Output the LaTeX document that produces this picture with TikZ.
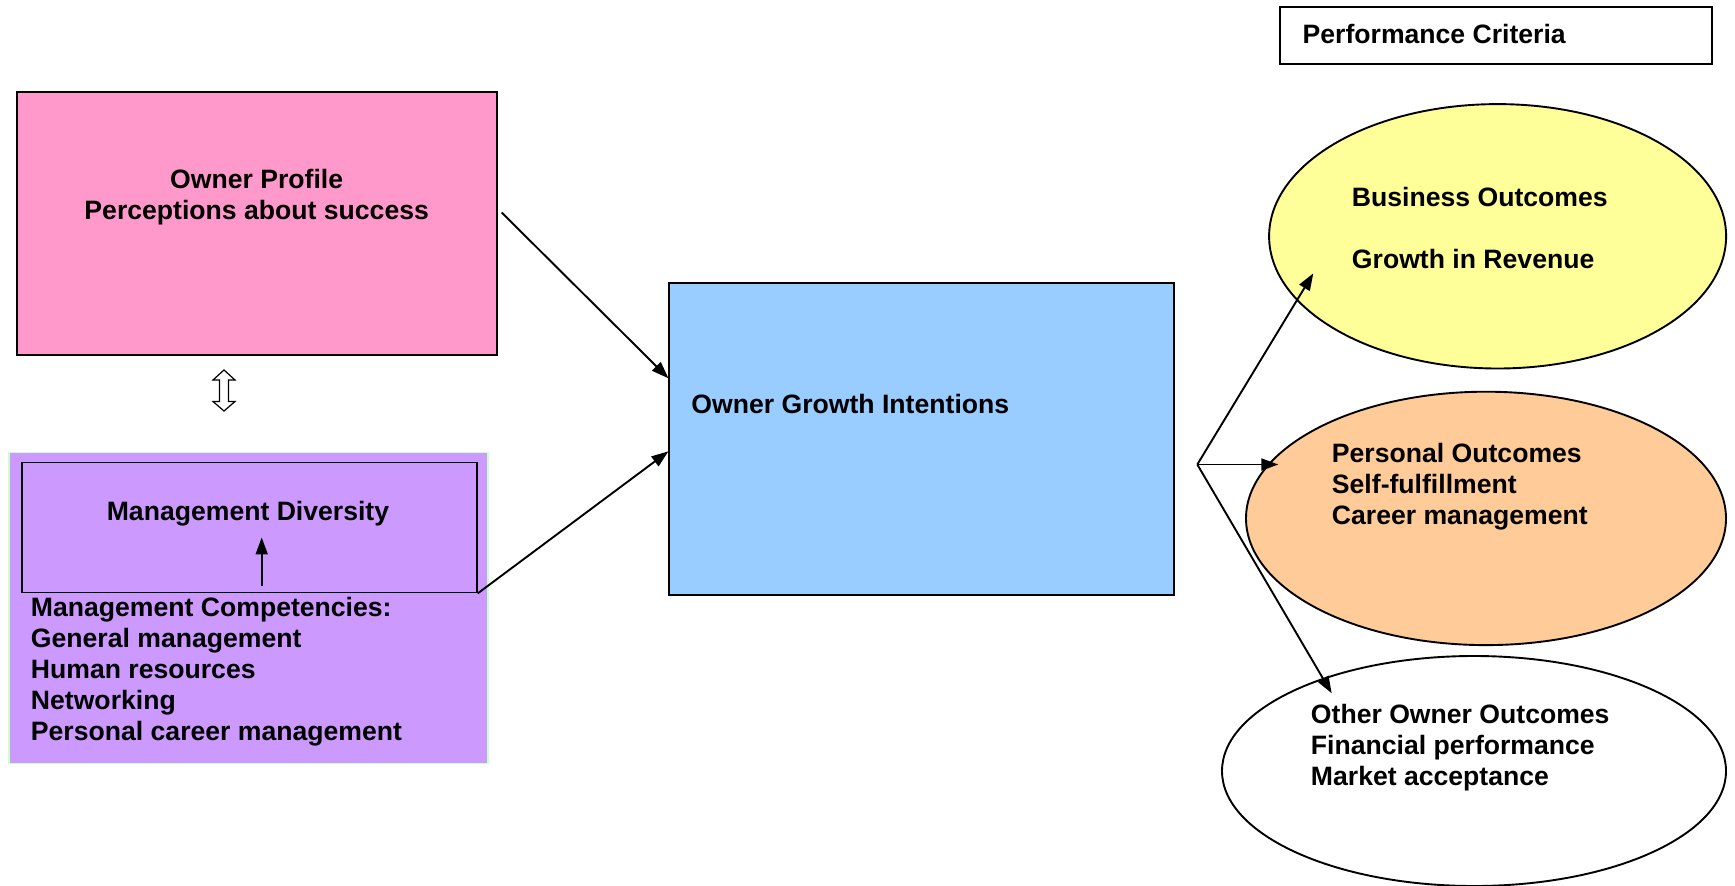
\documentclass[tikz,border=0pt]{standalone}
\usepackage{fontspec}
\setmainfont{Liberation Sans}
\usetikzlibrary{arrows.meta,shapes.geometric,calc}
\definecolor{profilepink}{HTML}{FF99CC}
\definecolor{mgmtpurple}{HTML}{CC99FF}
\definecolor{mgmtedge}{HTML}{CCFFCC}
\definecolor{growthblue}{HTML}{99CCFF}
\definecolor{businessyellow}{HTML}{FFFF99}
\definecolor{personalorange}{HTML}{FFCC99}

\begin{document}
\begin{tikzpicture}[x=1pt,y=-1pt,line width=1.9pt,
  every node/.style={font=\fontsize{26.6}{31}\selectfont\bfseries,inner sep=0pt},
  box/.style={draw,rectangle},
  outcome/.style={draw,ellipse},
  link/.style={-{Triangle[length=17pt,width=12pt]}}]
\useasboundingbox (0,0) rectangle (1735,886);
% performance criteria label
\node[box,minimum width=432,minimum height=57] (criteria) at (1496.4,35.4) {};
\node[anchor=west] (criteriatext) at (1301.7,34.3) {Performance Criteria};
% owner profile box
\node[box,fill=profilepink,minimum width=480,minimum height=263] (profile) at (256.7,223.5) {};
\node[align=center] (profiletext) at (256.7,197.5) {Owner Profile\\Perceptions about success};
% management box
\node[box,draw=mgmtedge,fill=mgmtpurple,minimum width=479,minimum height=311] (mgmt) at (248.6,608) {};
\node[box,minimum width=455,minimum height=130] (diversity) at (249.2,527.5) {};
\node (diversitytext) at (248,514) {Management Diversity};
\node[anchor=west,align=left] (competencies) at (30,671.5) {Management Competencies:\\General management\\Human resources\\Networking\\Personal career management};
\draw[link] ($(diversity.south)+(12.5,-7)$) -- ($(diversity.south)+(12.5,-56)$);
% double arrow between profile and management
\coordinate (swap) at (224,390.5);
\draw[line width=1.2pt,fill=white] ($(swap)+(0,-20.5)$) -- ++(11,10) -- ++(-6.5,0) -- ++(0,21.5) -- ++(6.5,0)
  -- ++(-11,9.5) -- ++(-11,-9.5) -- ++(6.5,0) -- ++(0,-21.5) -- ++(-6.5,0) -- cycle;
% growth intentions box
\node[box,fill=growthblue,minimum width=504.6,minimum height=312] (growth) at (921.7,439.3) {};
\node[anchor=west] (growthtext) at (690.5,404) {Owner Growth Intentions};
\draw[link] ($(profile.east)+(4,-11)$) -- ($(growth.west)+(0,-61)$);
\draw[link] (diversity.south east) -- ($(growth.west)+(0,12)$);
% outcome ellipses
\node[outcome,fill=businessyellow,minimum width=457,minimum height=264.4] (business) at (1497.6,236.3) {};
\node[anchor=west,align=left] (businesstext) at (1351,227.5) {Business Outcomes\\[31pt]Growth in Revenue};
\node[outcome,fill=personalorange,minimum width=480,minimum height=253.4] (personal) at (1486,518.4) {};
\node[anchor=west,align=left] (personaltext) at (1331,487) {Personal Outcomes\\Self-fulfillment\\Career management};
\node[outcome,fill=white,minimum width=504,minimum height=230] (other) at (1474,771) {};
\node[anchor=west,align=left] (othertext) at (1310,747.5) {Other Owner Outcomes\\Financial performance\\Market acceptance};
% fork to outcomes
\coordinate (fork) at (1197.3,464.5);
\coordinate (tobusiness) at (1313.3,273.3);
\coordinate (topersonal) at (1278.3,464.5);
\coordinate (toother) at (1331.7,693.3);
\draw[link] (fork) -- (tobusiness);
\draw[link] (fork) -- (topersonal);
\draw[link] (fork) -- (toother);
\end{tikzpicture}
\end{document}
